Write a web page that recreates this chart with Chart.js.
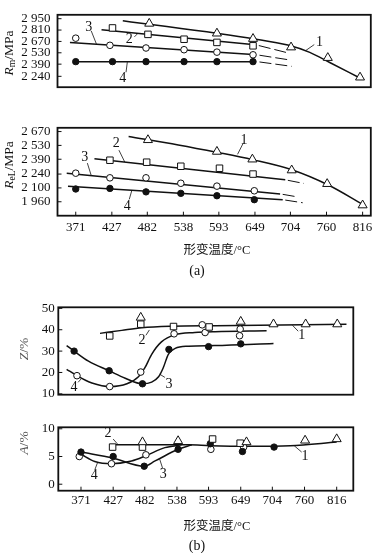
<!DOCTYPE html>
<html>
<head>
<meta charset="utf-8">
<script src="https://cdn.jsdelivr.net/npm/chart.js@4.4.0/dist/chart.umd.min.js"></script>
<style>
  body { margin: 0; background: #fff; width: 377px; height: 553px; position: relative; overflow: hidden; }
  canvas { position: absolute; left: 0; }
  .cap { position: absolute; left: 172px; width: 50px; text-align: center; font: 14px "Liberation Serif", serif; color: #111; line-height: 18px; }
</style>
</head>
<body>
<canvas id="cRm" width="377" height="102" style="top:0"></canvas>
<canvas id="cRel" width="377" height="150" style="top:113px"></canvas>
<div class="cap" style="top:262px">(a)</div>
<canvas id="cZ" width="377" height="110" style="top:296px"></canvas>
<canvas id="cA" width="377" height="126" style="top:416px"></canvas>
<div class="cap" style="top:537px">(b)</div>
<script>
// x tick labels (deformation temperature, °C)
const tempTicks = [371, 427, 482, 538, 593, 649, 704, 760, 816];
const xTitle = '形变温度/°C';

// (a) Rm / MPa
const rmTicks = [2240, 2390, 2530, 2670, 2810, 2950];
const rmT1 = [485, 590, 646, 705, 762, 812];
const rmV1 = [2890, 2769, 2703, 2598, 2468, 2227];
const rmT2 = [428, 483, 539, 590, 646];
const rmV2 = [2836, 2757, 2697, 2658, 2616];
const rmT3 = [371, 424, 480, 539, 590, 646];
const rmV3 = [2710, 2622, 2589, 2568, 2538, 2505];
const rmT4 = [371, 428, 480, 539, 590, 646];
const rmV4 = [2421, 2421, 2421, 2421, 2421, 2421];
const rmLineT1 = [444, 649, 700, 734, 765, 811];
const rmLineV1 = [2926, 2700, 2625, 2535, 2410, 2222];
const rmLineT2 = [411, 649], rmLineV2 = [2814, 2628];
const rmLineT3 = [362, 649], rmLineV3 = [2658, 2507];
const rmLineT4 = [368, 649], rmLineV4 = [2421, 2421];
const rmDashT2 = [655, 703], rmDashV2 = [2619, 2523];
const rmDashT3 = [656, 705], rmDashV3 = [2500, 2439];
const rmDashT4 = [656, 706], rmDashV4 = [2417, 2363];
// curve numbers: text, x, y, leader start x/y, leader end x/y
const rmNotes = [
  ['1', 749, 2655, 741, 2631, 728, 2559],
  ['2', 454, 2694, 462, 2726, 467, 2766],
  ['3', 391, 2839, 395, 2800, 403, 2640],
  ['4', 444, 2216, 449, 2290, 451, 2415]
];

// (a) ReL / MPa
const relTicks = [1960, 2100, 2240, 2390, 2530, 2670];
const relT1 = [483, 590, 645, 706, 761, 816];
const relV1 = [2585, 2467, 2389, 2279, 2141, 1925];
const relT2 = [424, 481, 534, 594, 646];
const relV2 = [2380, 2360, 2319, 2299, 2240];
const relT3 = [371, 424, 480, 534, 590, 648];
const relV3 = [2249, 2202, 2202, 2147, 2118, 2071];
const relT4 = [371, 424, 480, 534, 590, 648];
const relV4 = [2089, 2095, 2060, 2045, 2021, 1981];
const relLineT1 = [453, 530, 591, 645, 706, 762, 816];
const relLineV1 = [2620, 2535, 2459, 2386, 2284, 2132, 1934];
const relLineT2 = [400, 696], relLineV2 = [2395, 2182];
const relLineT3 = [357, 688], relLineV3 = [2249, 2039];
const relLineT4 = [359, 692], relLineV4 = [2118, 1981];
const relDashT2 = [700, 725], relDashV2 = [2177, 2145];
const relDashT3 = [692, 716], relDashV3 = [2035, 2008];
const relDashT4 = [696, 723], relDashV4 = [1977, 1950];
const relNotes = [
  ['1', 632, 2585, 631, 2555, 622, 2440],
  ['2', 434, 2550, 438, 2482, 447, 2362],
  ['3', 385, 2410, 389, 2351, 395, 2226],
  ['4', 451, 1914, 454, 1984, 458, 2075]
];

// (b) Z / %
const zTicks = [10, 20, 30, 40, 50];
const zT1 = [475, 649, 706, 762, 817], zV1 = [45.7, 43.8, 42.6, 42.6, 42.6];
const zT2 = [421, 475, 532, 594], zV2 = [37.1, 42.6, 41.5, 41.3];
const zT3 = [359, 420, 478, 524, 593, 649], zV3 = [30.0, 20.8, 14.7, 30.8, 32.1, 33.4];
const zT4 = [364, 421, 475, 533, 582, 587, 648, 647];
const zV4 = [18.5, 13.4, 20.2, 38.1, 42.3, 38.7, 40.3, 37.2];
const zLineT1 = [404, 442, 477, 529, 604, 833];
const zLineV1 = [38.3, 39.7, 40.9, 41.6, 41.9, 42.6];
const zLineT3 = [346, 359, 384, 420, 448, 478, 494, 506, 514, 523, 535, 558, 604, 706];
const zLineV3 = [32.6, 30.0, 25.3, 20.8, 17.3, 14.7, 15.5, 18.0, 22.1, 28.5, 31.3, 32.3, 32.6, 33.6];
const zLineT4 = [346, 364, 390, 422, 451, 471, 482, 494, 511, 535, 569, 604, 694];
const zLineV4 = [21.5, 18.5, 15.1, 13.4, 14.7, 18.0, 22.1, 28.5, 34.3, 37.7, 38.7, 39.1, 39.5];
const zNotes = [
  ['2', 477, 34.9, 484, 37.4, 490, 39.9],
  ['1', 755, 37.4, 749, 39.3, 739, 42.1],
  ['3', 524, 14.4, 517, 17.7, 508, 19.2],
  ['4', 359, 13.2, 366, 15.4, 372, 17.2]
];

// (b) A / %
const aTicks = [0, 5, 10];
const aT1 = [478, 540, 659, 761, 816], aV1 = [7.6, 7.8, 7.6, 7.9, 8.15];
const aT2 = [426, 478, 600, 648], aV2 = [6.7, 6.7, 8.15, 7.4];
const aT3 = [371, 427, 481, 540, 596, 652, 707], aV3 = [5.8, 5.0, 3.25, 6.3, 7.3, 5.9, 6.7];
const aT4 = [368, 424, 484, 597, 654], aV4 = [5.0, 3.7, 5.3, 6.3, 6.7];
const aLineT1 = [422, 558, 596, 665, 735, 816], aLineV1 = [7.1, 7.1, 6.95, 6.85, 6.95, 7.6];
const aLineT3 = [371, 427, 481, 500, 540, 564], aLineV3 = [5.8, 4.7, 3.25, 4.2, 6.3, 7.1];
const aLineT4 = [371, 395, 424, 459, 484, 517, 546], aLineV4 = [5.4, 4.1, 3.7, 4.2, 5.15, 6.6, 7.1];
const aNotes = [
  ['2', 418, 9.2, 427, 8.15, 435, 7.2],
  ['1', 761, 5.0, 755, 5.8, 742, 6.95],
  ['4', 394, 1.6, 395, 2.6, 400, 3.95],
  ['3', 514, 1.8, 513, 2.9, 508, 4.5]
];

Chart.defaults.font.family = '"Liberation Serif", serif';
Chart.defaults.color = '#111';
const INK = '#111';
const SERIF = '"Liberation Serif", serif';

function pts(xs, ys) { return xs.map((x, i) => ({ x: x, y: ys[i] })); }

const TRI = { pointStyle: 'triangle', pointRadius: 5.2, pointBackgroundColor: '#fff' };
const SQ  = { pointStyle: 'rect', pointRadius: 4.6, pointBackgroundColor: '#fff' };
const CIR = { pointStyle: 'circle', pointRadius: 3.3, pointBackgroundColor: '#fff' };
const DOT = { pointStyle: 'circle', pointRadius: 3.2, pointBackgroundColor: INK };

function marks(xs, ys, st) {
  return Object.assign({ data: pts(xs, ys), showLine: false, pointBorderColor: INK, pointBorderWidth: 1 }, st);
}
function curve(xs, ys, dash) {
  return {
    data: pts(xs, ys), showLine: true, pointRadius: 0, fill: false,
    borderColor: INK, borderWidth: dash ? 1 : 1.5, borderDash: dash ? [12, 4] : [],
    tension: 0.4, cubicInterpolationMode: 'monotone'
  };
}

// box, inward ticks, y title, x title and curve numbers
const frame = {
  id: 'frame',
  afterDatasetsDraw(chart, args, o) {
    const { ctx, chartArea: a, scales } = chart;
    ctx.save();
    ctx.strokeStyle = INK;
    ctx.lineWidth = 1.8;
    ctx.strokeRect(a.left, a.top, a.right - a.left, a.bottom - a.top);
    ctx.lineWidth = 1;
    ctx.beginPath();
    scales.y.ticks.forEach(t => {
      const y = scales.y.getPixelForValue(t.value);
      ctx.moveTo(a.left, y); ctx.lineTo(a.left + 4, y);
    });
    if (o.xTicks) {
      scales.x.ticks.forEach(t => {
        const x = scales.x.getPixelForValue(t.value);
        ctx.moveTo(x, a.bottom); ctx.lineTo(x, a.bottom - 4);
      });
    }
    ctx.stroke();

    // y title
    const tt = o.title;
    ctx.save();
    ctx.translate(tt.x, tt.y);
    ctx.rotate(-Math.PI / 2);
    ctx.fillStyle = tt.color;
    ctx.textBaseline = 'middle';
    ctx.textAlign = 'left';
    let w = 0;
    tt.parts.forEach(p => { ctx.font = p[1]; w += ctx.measureText(p[0]).width; });
    let cx = -w / 2;
    tt.parts.forEach(p => {
      ctx.font = p[1];
      ctx.fillText(p[0], cx, p[2] || 0);
      cx += ctx.measureText(p[0]).width;
    });
    ctx.restore();

    // x title
    ctx.fillStyle = INK;
    ctx.textAlign = 'center';
    ctx.textBaseline = 'middle';
    if (o.xt) {
      ctx.font = '12.5px "Liberation Serif", "Noto Sans CJK SC", serif';
      ctx.fillText(xTitle, o.xt[0], o.xt[1]);
    }

    // curve numbers with leaders
    ctx.font = '14px ' + SERIF;
    ctx.lineWidth = 0.8;
    o.notes.forEach(n => {
      const X = v => scales.x.getPixelForValue(v), Y = v => scales.y.getPixelForValue(v);
      ctx.fillText(n[0], X(n[1]), Y(n[2]));
      ctx.beginPath();
      ctx.moveTo(X(n[3]), Y(n[4]));
      ctx.lineTo(X(n[5]), Y(n[6]));
      ctx.stroke();
    });
    ctx.restore();
  }
};

function spaced(v) { return String(v).replace(/\B(?=(\d{3})+(?!\d))/g, ' '); }

function panel(id, c) {
  const xScale = {
    type: 'linear', min: c.xMin, max: c.xMax, display: c.xShow,
    grid: { display: false, drawTicks: false }, border: { display: false },
    afterBuildTicks: s => { s.ticks = tempTicks.map(v => ({ value: v })); }
  };
  if (c.xShow) {
    xScale.afterFit = s => { s.height = c.xH; };
    xScale.ticks = { autoSkip: false, maxRotation: 0, padding: c.xPad, font: { size: 13 }, color: INK, callback: v => String(v) };
  }
  return new Chart(document.getElementById(id), {
    type: 'scatter',
    data: { datasets: c.datasets },
    options: {
      responsive: false,
      animation: false,
      layout: { padding: c.pad },
      plugins: {
        legend: { display: false },
        tooltip: { enabled: false },
        frame: { title: c.title, notes: c.notes, xTicks: c.xShow, xt: c.xt }
      },
      scales: {
        x: xScale,
        y: {
          type: 'linear', min: c.yMin, max: c.yMax,
          grid: { display: false, drawTicks: false }, border: { display: false },
          afterFit: s => { s.width = c.yW; },
          afterBuildTicks: s => { s.ticks = c.yTicks.map(v => ({ value: v })); },
          ticks: { autoSkip: false, padding: c.yPad, font: { size: 13 }, color: INK, callback: v => spaced(v) }
        }
      }
    },
    plugins: [frame]
  });
}

const titleFont = 'italic 13.5px ' + SERIF;
const plainFont = '13.5px ' + SERIF;
const subFont = '9.5px ' + SERIF;

panel('cRm', {
  xMin: 342.7, xMax: 828.7, xShow: false,
  yMin: 2106, yMax: 2998, yTicks: rmTicks, yW: 57.5, yPad: 7,
  pad: { top: 2, bottom: 2, left: 0, right: 2 },
  title: { x: 9, y: 53, color: INK, parts: [['R', titleFont], ['m', subFont, 3], ['/MPa', plainFont]] },
  notes: rmNotes,
  datasets: [
    marks(rmT1, rmV1, TRI), marks(rmT2, rmV2, SQ), marks(rmT3, rmV3, CIR), marks(rmT4, rmV4, DOT),
    curve(rmLineT1, rmLineV1), curve(rmLineT2, rmLineV2), curve(rmLineT3, rmLineV3), curve(rmLineT4, rmLineV4),
    curve(rmDashT2, rmDashV2, true), curve(rmDashT3, rmDashV3, true), curve(rmDashT4, rmDashV4, true)
  ]
});

panel('cRel', {
  xMin: 342.7, xMax: 828.7, xShow: true, xH: 47.3, xPad: 4, xt: [217, 138],
  yMin: 1819, yMax: 2708, yTicks: relTicks, yW: 57.5, yPad: 7,
  pad: { top: 2, bottom: 0, left: 0, right: 2 },
  title: { x: 9, y: 52, color: INK, parts: [['R', titleFont], ['eL', subFont, 3], ['/MPa', plainFont]] },
  notes: relNotes,
  datasets: [
    marks(relT1, relV1, TRI), marks(relT2, relV2, SQ), marks(relT3, relV3, CIR), marks(relT4, relV4, DOT),
    curve(relLineT1, relLineV1), curve(relLineT2, relLineV2), curve(relLineT3, relLineV3), curve(relLineT4, relLineV4),
    curve(relDashT2, relDashV2, true), curve(relDashT3, relDashV3, true), curve(relDashT4, relDashV4, true)
  ]
});

panel('cZ', {
  xMin: 331.5, xMax: 844.9, xShow: false,
  yMin: 9.6, yMax: 50.5, yTicks: zTicks, yW: 58.3, yPad: 3.5,
  pad: { top: 1.7, bottom: 1.7, left: 0, right: 23.7 },
  title: { x: 24, y: 53, color: '#555', parts: [['Z', titleFont], ['/%', plainFont]] },
  notes: zNotes,
  datasets: [
    marks(zT1, zV1, TRI), marks(zT2, zV2, SQ), marks(zT3, zV3, DOT), marks(zT4, zV4, CIR),
    curve(zLineT1, zLineV1), curve(zLineT3, zLineV3), curve(zLineT4, zLineV4)
  ]
});

panel('cA', {
  xMin: 331.5, xMax: 844.9, xShow: true, xH: 51.3, xPad: 2.2, xt: [217, 110.7],
  yMin: -1.17, yMax: 10.27, yTicks: aTicks, yW: 58.3, yPad: 3.5,
  pad: { top: 2.3, bottom: 0, left: 0, right: 23.7 },
  title: { x: 24, y: 27, color: '#555', parts: [['A', titleFont], ['/%', plainFont]] },
  notes: aNotes,
  datasets: [
    marks(aT1, aV1, TRI), marks(aT2, aV2, SQ), marks(aT3, aV3, DOT), marks(aT4, aV4, CIR),
    curve(aLineT1, aLineV1), curve(aLineT3, aLineV3), curve(aLineT4, aLineV4)
  ]
});
</script>
</body>
</html>
